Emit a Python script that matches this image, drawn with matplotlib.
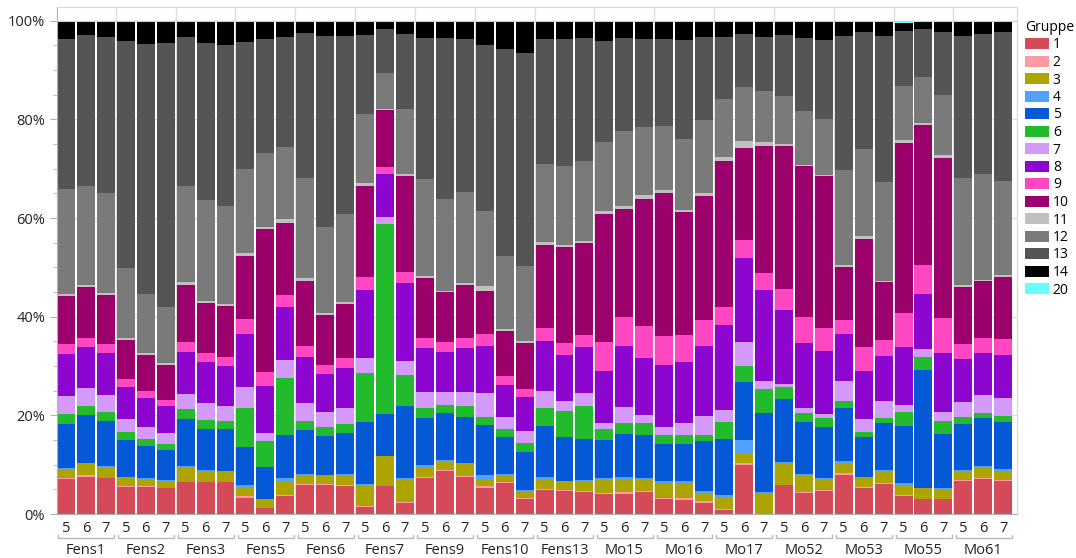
import numpy as np
import matplotlib.pyplot as plt
from matplotlib.patches import Patch

plt.rcParams['font.family'] = ['Open Sans', 'DejaVu Sans']

# Standorte und Monate (5, 6, 7)
standorte = ['Fens1', 'Fens2', 'Fens3', 'Fens5', 'Fens6', 'Fens7', 'Fens9', 'Fens10',
             'Fens13', 'Mo15', 'Mo16', 'Mo17', 'Mo52', 'Mo53', 'Mo55', 'Mo61']
monate = ['5', '6', '7']
gruppen = ['1', '2', '3', '4', '5', '6', '7', '8', '9', '10', '11', '12', '13', '14', '20']
farben = ['#d44a58', '#ff99a3', '#aea400', '#52a0ff', '#0659d6', '#22bb2d', '#d39afa',
          '#8c06cf', '#ff47c1', '#9c006a', '#c0c0c0', '#7a7a7a', '#555555', '#000000', '#66ffff']

# Anteile (%) je Gruppe, 48 Balken (Standort x Monat)
g1 = [7.0, 7.6, 7.2, 5.5, 5.5, 5.2, 6.4, 6.4, 6.4, 3.2, 1.2, 3.7, 5.9, 5.9, 5.7, 1.4,
      5.7, 2.2, 7.3, 8.7, 7.5, 5.3, 6.3, 3.0, 4.9, 4.7, 4.5, 4.1, 4.1, 4.5, 3.0, 2.8,
      2.2, 0.8, 9.9, 0.0, 5.9, 4.3, 4.7, 7.9, 5.3, 6.1, 3.7, 3.0, 3.0, 6.7, 7.1, 6.7]
g2 = [0.2, 0.3, 0.2, 0.2, 0.1, 0.1, 0.1, 0.1, 0.1, 0.5, 0.1, 0.2, 0.2, 0.1, 0.2, 0.2,
      0.0, 0.2, 0.2, 0.2, 0.2, 0.4, 0.2, 0.2, 0.2, 0.2, 0.1, 0.1, 0.4, 0.1, 0.2, 0.4,
      0.4, 0.2, 0.4, 0.0, 0.0, 0.2, 0.1, 0.4, 0.2, 0.2, 0.2, 0.0, 0.0, 0.1, 0.3, 0.2]
g3 = [1.7, 2.2, 1.9, 1.5, 1.3, 1.2, 2.8, 2.0, 2.0, 1.6, 1.5, 2.8, 1.8, 1.7, 2.0, 4.1,
      6.1, 4.5, 2.0, 1.6, 2.4, 1.4, 1.2, 1.3, 2.0, 1.6, 2.1, 2.9, 2.4, 2.3, 3.1, 3.1,
      1.7, 2.2, 2.1, 4.1, 4.2, 3.2, 2.3, 2.0, 1.8, 2.2, 2.0, 2.3, 1.9, 1.7, 2.1, 1.8]
g4 = [0.5, 0.3, 0.4, 0.3, 0.4, 0.4, 0.4, 0.4, 0.3, 0.6, 0.3, 0.6, 0.2, 0.2, 0.2, 0.4,
      0.0, 0.3, 0.4, 0.5, 0.2, 0.8, 0.4, 0.4, 0.4, 0.2, 0.2, 0.2, 0.6, 0.4, 0.4, 0.4,
      0.4, 0.7, 2.6, 0.4, 0.4, 0.4, 0.2, 0.5, 0.2, 0.4, 0.4, 0.0, 0.4, 0.4, 0.2, 0.4]
g5 = [8.9, 9.7, 9.2, 7.5, 6.5, 6.1, 9.6, 8.3, 8.4, 7.7, 6.4, 8.7, 8.9, 7.9, 8.3, 12.6,
      8.5, 14.7, 9.6, 9.5, 9.4, 10.2, 7.5, 7.7, 10.3, 8.9, 8.3, 7.7, 8.7, 8.7, 7.5, 7.5,
      10.1, 11.3, 11.8, 16.0, 12.8, 10.6, 10.3, 10.7, 8.1, 9.6, 11.5, 23.9, 10.9, 9.4, 9.8, 9.6]
g6 = [2.0, 1.8, 1.8, 1.6, 1.4, 1.2, 2.0, 1.9, 1.7, 7.9, 5.3, 11.6, 1.9, 1.8, 1.9, 9.9,
      38.5, 6.3, 2.0, 1.6, 2.2, 1.6, 1.6, 1.8, 3.7, 5.3, 6.7, 2.2, 2.3, 2.5, 1.8, 1.8,
      1.2, 3.5, 3.2, 4.9, 2.5, 1.8, 1.9, 1.4, 1.0, 1.0, 2.9, 2.6, 2.7, 1.4, 1.0, 1.2]
g7 = [3.6, 3.7, 3.4, 2.7, 2.4, 2.2, 3.0, 3.4, 3.0, 4.3, 1.6, 3.6, 3.6, 3.1, 3.2, 3.0,
      1.4, 2.8, 3.2, 2.6, 2.8, 4.8, 2.5, 2.4, 3.4, 2.0, 2.6, 1.3, 3.2, 1.6, 1.6, 2.5,
      3.9, 2.4, 4.9, 1.6, 0.6, 1.0, 0.8, 4.1, 2.7, 3.4, 1.4, 1.7, 1.8, 3.0, 3.6, 3.6]
g8 = [8.6, 8.3, 8.6, 6.5, 5.9, 5.5, 8.6, 8.3, 8.1, 10.7, 9.6, 10.8, 9.3, 7.7, 8.1, 13.8,
      8.8, 15.9, 9.0, 8.2, 9.0, 9.6, 6.5, 6.9, 10.2, 9.4, 9.4, 10.5, 12.4, 11.5, 12.6, 12.3,
      14.2, 17.2, 17.0, 18.4, 15.0, 13.2, 12.8, 9.5, 9.7, 9.1, 11.8, 11.1, 12.0, 8.7, 8.6, 8.8]
g9 = [2.0, 1.8, 1.8, 1.6, 1.4, 1.2, 2.0, 1.9, 1.8, 3.1, 2.8, 2.4, 2.3, 1.8, 2.0, 2.7,
      1.4, 2.2, 2.0, 2.0, 2.0, 2.4, 1.8, 1.7, 2.6, 2.4, 2.4, 5.9, 5.9, 6.5, 5.9, 5.5,
      5.3, 3.7, 3.7, 3.5, 4.2, 5.3, 4.6, 2.9, 4.9, 3.3, 6.9, 5.9, 7.1, 3.1, 3.0, 3.2]
g10 = [9.7, 10.4, 9.9, 7.9, 7.4, 7.1, 11.6, 10.1, 10.4, 12.7, 29.0, 14.6, 13.2, 10.2, 11.0, 18.4,
       11.5, 19.5, 12.2, 10.1, 10.8, 8.7, 9.1, 9.3, 16.9, 19.5, 18.7, 26.0, 21.9, 25.8, 29.0, 25.0,
       25.1, 29.6, 18.6, 25.7, 29.0, 30.6, 30.9, 10.7, 21.9, 11.8, 34.5, 28.4, 32.4, 11.5, 11.6, 12.6]
g11 = [0.5, 0.4, 0.4, 0.4, 0.4, 0.4, 0.6, 0.4, 0.3, 0.6, 0.4, 0.8, 0.6, 0.4, 0.4, 0.6,
       0.3, 0.4, 0.4, 0.3, 0.4, 1.0, 0.4, 0.4, 0.6, 0.4, 0.4, 0.6, 0.6, 0.8, 0.6, 0.4,
       0.6, 0.8, 1.5, 0.9, 0.5, 0.2, 0.2, 0.4, 0.6, 0.2, 0.6, 0.4, 0.6, 0.5, 0.2, 0.4]
g12 = [21.2, 20.0, 20.3, 14.2, 11.9, 11.4, 19.4, 20.5, 20.0, 17.1, 15.0, 14.6, 20.3, 17.4, 17.9, 14.0,
       7.3, 13.2, 19.6, 18.6, 18.4, 15.3, 14.8, 15.2, 15.8, 16.0, 16.2, 14.0, 15.2, 13.8, 13.0, 14.4,
       14.8, 11.8, 10.9, 10.3, 9.7, 10.9, 11.3, 19.3, 17.6, 20.0, 10.9, 9.3, 12.2, 21.7, 21.5, 19.0]
g13 = [30.4, 30.7, 31.7, 46.0, 50.7, 53.5, 30.3, 31.8, 32.6, 25.7, 23.1, 22.4, 29.4, 38.8, 36.1, 16.1,
       8.9, 15.2, 28.7, 32.7, 31.0, 33.6, 42.0, 43.2, 25.3, 25.7, 25.0, 20.4, 18.9, 17.8, 17.6, 20.0,
       16.9, 12.6, 10.8, 11.0, 12.4, 14.9, 16.0, 27.2, 23.8, 29.7, 11.2, 9.8, 12.8, 28.8, 28.4, 30.3]
g14 = [3.6, 2.7, 3.1, 4.0, 4.6, 4.4, 3.1, 4.4, 4.9, 4.2, 3.6, 3.1, 2.3, 2.9, 2.9, 2.8,
       1.4, 2.6, 3.3, 3.3, 3.6, 4.8, 5.6, 6.4, 3.6, 3.6, 3.3, 4.0, 3.3, 3.6, 3.6, 3.8,
       3.1, 3.1, 2.5, 3.2, 2.7, 3.3, 3.8, 2.9, 2.1, 2.9, 1.6, 1.3, 1.9, 2.9, 2.5, 2.1]
g20 = [0.1, 0.1, 0.1, 0.1, 0.1, 0.1, 0.1, 0.1, 0.0, 0.1, 0.1, 0.1, 0.1, 0.1, 0.1, 0.0,
       0.2, 0.0, 0.1, 0.1, 0.1, 0.1, 0.1, 0.1, 0.1, 0.1, 0.1, 0.1, 0.1, 0.1, 0.1, 0.1,
       0.1, 0.1, 0.1, 0.0, 0.1, 0.1, 0.1, 0.1, 0.1, 0.1, 0.4, 0.3, 0.3, 0.1, 0.1, 0.1]

anteile = np.array([g1, g2, g3, g4, g5, g6, g7, g8, g9, g10, g11, g12, g13, g14, g20])
anteile = anteile / anteile.sum(axis=0) * 100

fig = plt.figure(figsize=(10.76, 5.58), dpi=100)
ax = fig.add_axes([57/1076, 44/558, 960/1076, 507/558])

x = np.arange(len(standorte) * len(monate))
unten = np.zeros(len(x))
for werte, name, farbe in zip(anteile, gruppen, farben):
    ax.bar(x, werte, bottom=unten, width=0.9, color=farbe, label=name, zorder=2)
    unten += werte

ax.set_xlim(-0.45, 47.69)
ax.set_ylim(0, 102.8)
ax.set_yticks(np.arange(0, 101, 20))
ax.set_yticklabels([f'{v}%' for v in range(0, 101, 20)])
ax.set_yticks(np.arange(0, 101, 5), minor=True)
ax.yaxis.grid(True, color='#dedede', lw=1, zorder=0)
for k in range(1, len(standorte)):
    ax.axvline(3*k - 0.5, color='#dedede', lw=1, zorder=0)
ax.axhline(100, color='#88eeee', lw=0.8, zorder=3)

for s in ['left', 'bottom']:
    ax.spines[s].set_color('#b0b0b0')
for s in ['top', 'right']:
    ax.spines[s].set_color('#d8d8d8')

ax.tick_params(axis='y', which='major', length=5, color='#b0b0b0', labelsize=10.5, labelcolor='#222222')
ax.tick_params(axis='y', which='minor', length=3, color='#b0b0b0')
ax.set_xticks(x)
ax.set_xticklabels(monate * len(standorte))
ax.tick_params(axis='x', length=0, pad=5, labelsize=10.5, labelcolor='#222222')

# Gruppenklammern unter der x-Achse
trans = ax.get_xaxis_transform()
yk = -0.047
for k, name in enumerate(standorte):
    a, b = 3*k - 0.38, 3*k + 2 + 0.42
    ax.plot([a, a, b, b], [yk + 0.005, yk, yk, yk + 0.005], transform=trans,
            clip_on=False, color='#bbbbbb', lw=1)
    ax.text(3*k + 1, -0.072, name, transform=trans, ha='center', va='center',
            fontsize=10.5, color='#222222')

handles = [Patch(facecolor=f, label=g) for g, f in zip(gruppen, farben)]
fig.legend(handles=handles, title='Gruppe', loc='upper left',
           bbox_to_anchor=(1025/1076, 1 - 20/558), frameon=False, fontsize=10,
           title_fontsize=10, handlelength=1.7, handleheight=0.85, labelspacing=0.18,
           handletextpad=0.3, alignment='left', borderaxespad=0, borderpad=0)

fig.savefig('out.png', dpi=100)
